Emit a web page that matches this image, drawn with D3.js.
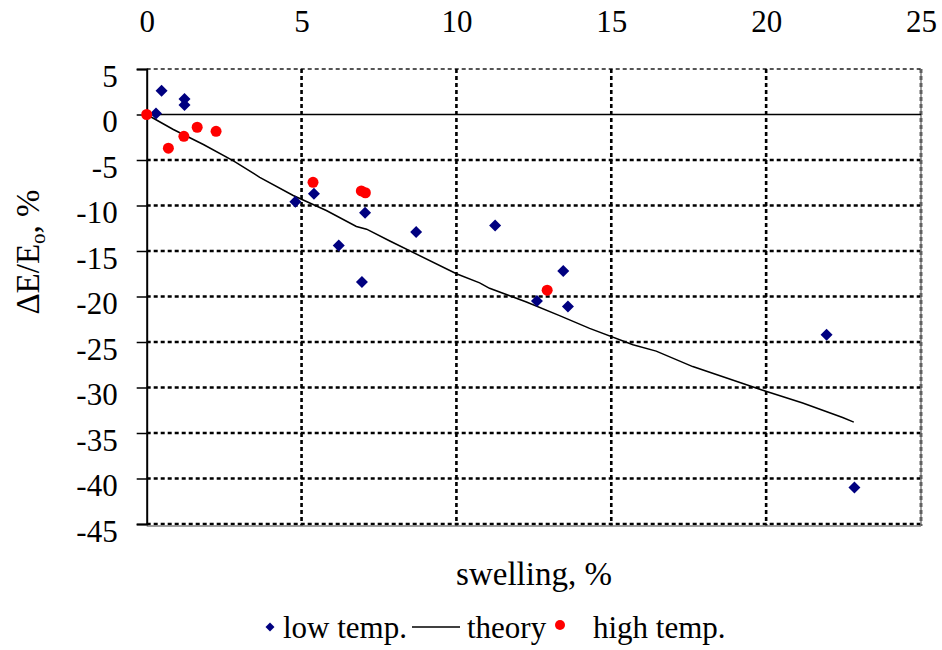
<!DOCTYPE html>
<html>
<head>
<meta charset="utf-8">
<script src="https://cdn.jsdelivr.net/npm/d3@7"></script>
<style>
  body { margin: 0; background: #fff; }
  text { font-family: "Liberation Serif", "Times New Roman", serif; fill: #000; }
</style>
</head>
<body>
<script>
/* data */
var lowX = [0.30, 0.48, 1.22, 1.22, 4.80, 5.40, 6.20, 6.95, 7.05, 8.70, 11.25, 12.60, 13.45, 13.60, 21.95, 22.85];
var lowY = [0.1, 2.6, 1.7, 1.05, -9.6, -8.7, -14.4, -18.4, -10.8, -12.9, -12.2, -20.5, -17.2, -21.1, -24.2, -41.0];

var highX = [0, 0.70, 1.20, 1.63, 2.24, 5.37, 6.93, 7.06, 12.93];
var highY = [0, -3.7, -2.4, -1.4, -1.85, -7.45, -8.4, -8.6, -19.3];

var theoryX = [0, 0.86, 1.83, 2.8, 3.65, 4.73, 5.8, 6.77, 7.1, 7.85, 10.0, 10.75, 11.07, 12.26, 13.33, 14.3, 15.7, 16.45, 17.63, 19.89, 21.18, 22.47, 22.83];
var theoryY = [0, -1.65, -3.3, -5.1, -6.9, -8.9, -10.55, -12.3, -12.6, -13.9, -17.5, -18.5, -19.1, -20.6, -22.1, -23.5, -25.3, -26.0, -27.7, -30.3, -31.7, -33.3, -33.8];

var xTicks = [0, 5, 10, 15, 20, 25];
var yTicks = [5, 0, -5, -10, -15, -20, -25, -30, -35, -40, -45];
var legendNames = ['low temp.', 'theory', 'high temp.'];

var svg = d3.select('body').append('svg')
  .attr('width', 942)
  .attr('height', 650);

/* scales */
var x = d3.scaleLinear().domain([0, 25]).range([146.7, 921]);
var y = d3.scaleLinear().domain([5, -45]).range([69, 524]);

/* grid */
var grid = svg.append('g');
grid.selectAll('.hg').data(yTicks.filter(function (d) { return d !== 0; }))
  .enter().append('line')
  .attr('x1', x(0)).attr('x2', x(25))
  .attr('y1', function (d) { return y(d); })
  .attr('y2', function (d) { return y(d); })
  .attr('stroke', function (d) { return d === 5 ? '#555' : '#000'; })
  .attr('stroke-width', function (d) { return d === 5 ? 2 : 2.6; })
  .attr('stroke-dasharray', '4,3');
grid.selectAll('.vg').data(xTicks.slice(1))
  .enter().append('line')
  .attr('x1', function (d) { return x(d); })
  .attr('x2', function (d) { return x(d); })
  .attr('y1', y(5)).attr('y2', y(-45) + 2)
  .attr('stroke', '#000')
  .attr('stroke-width', 2.6)
  .attr('stroke-dasharray', '4,3');

/* right and bottom border, grey */
svg.append('line')
  .attr('x1', x(25)).attr('x2', x(25))
  .attr('y1', y(5)).attr('y2', y(-45) + 2)
  .attr('stroke', '#808080').attr('stroke-width', 1.5);
svg.append('line')
  .attr('x1', x(0)).attr('x2', x(25))
  .attr('y1', y(-45) + 2).attr('y2', y(-45) + 2)
  .attr('stroke', '#808080').attr('stroke-width', 1.5);

/* zero line */
svg.append('line')
  .attr('x1', x(0)).attr('x2', x(25))
  .attr('y1', y(0)).attr('y2', y(0))
  .attr('stroke', '#000').attr('stroke-width', 1.5);

/* left axis */
var yAxis = d3.axisLeft(y).tickValues(yTicks).tickSize(10).tickPadding(19)
  .tickFormat(d3.format('d'));
var ya = svg.append('g')
  .attr('transform', 'translate(' + x(0) + ',0)')
  .call(yAxis);
ya.select('.domain').attr('stroke', '#000').attr('stroke-width', 2);
ya.selectAll('.tick line').attr('stroke', '#000').attr('stroke-width', 1.5);
ya.selectAll('.tick text')
  .attr('font-size', 31)
  .attr('font-family', '"Liberation Serif", "Times New Roman", serif')
  .attr('dy', 17)
  .text(function (d) { return String(d).replace('\u2212', '-'); });

/* top labels, no line */
var xAxis = d3.axisTop(x).tickValues(xTicks).tickSize(0).tickPadding(37)
  .tickFormat(d3.format('d'));
var xa = svg.append('g')
  .attr('transform', 'translate(0,' + y(5) + ')')
  .call(xAxis);
xa.select('.domain').remove();
xa.selectAll('.tick text')
  .attr('font-size', 31)
  .attr('font-family', '"Liberation Serif", "Times New Roman", serif');

/* theory line */
var line = d3.line()
  .x(function (d, i) { return x(theoryX[i]); })
  .y(function (d, i) { return y(theoryY[i]); });
svg.append('path')
  .attr('d', line(theoryX))
  .attr('fill', 'none')
  .attr('stroke', '#000')
  .attr('stroke-width', 1.5);

/* low temp diamonds */
var diamond = d3.symbol().type(d3.symbolSquare).size(72);
svg.selectAll('.low').data(lowX).enter().append('path')
  .attr('d', diamond)
  .attr('transform', function (d, i) {
    return 'translate(' + x(d) + ',' + y(lowY[i]) + ') rotate(45)';
  })
  .attr('fill', '#000080');

/* high temp dots */
svg.selectAll('.high').data(highX).enter().append('circle')
  .attr('cx', function (d) { return x(d); })
  .attr('cy', function (d, i) { return y(highY[i]); })
  .attr('r', 5.5)
  .attr('fill', '#ff0000');

/* axis titles */
svg.append('text')
  .attr('x', 534).attr('y', 585)
  .attr('text-anchor', 'middle')
  .attr('font-size', 33)
  .text('swelling, %');

var yt = svg.append('text')
  .attr('transform', 'translate(39,252) rotate(-90)')
  .attr('text-anchor', 'middle')
  .attr('font-size', 33);
yt.append('tspan').text('\u0394E/E');
yt.append('tspan').attr('font-size', 21).attr('dy', 6).text('o');
yt.append('tspan').attr('dy', -6).text(', %');

/* legend */
var lg = svg.append('g').attr('font-size', 31);
lg.append('path')
  .attr('d', d3.symbol().type(d3.symbolSquare).size(40))
  .attr('transform', 'translate(270,627) rotate(45)')
  .attr('fill', '#000080');
lg.append('text').attr('x', 283).attr('y', 638).attr('font-size', 31).text(legendNames[0]);
lg.append('line')
  .attr('x1', 412).attr('x2', 460).attr('y1', 627).attr('y2', 627)
  .attr('stroke', '#000').attr('stroke-width', 1.5);
lg.append('text').attr('x', 467).attr('y', 638).attr('font-size', 31).text(legendNames[1]);
lg.append('circle').attr('cx', 560).attr('cy', 625).attr('r', 5).attr('fill', '#ff0000');
lg.append('text').attr('x', 593).attr('y', 638).attr('font-size', 31).text(legendNames[2]);
</script>
</body>
</html>
